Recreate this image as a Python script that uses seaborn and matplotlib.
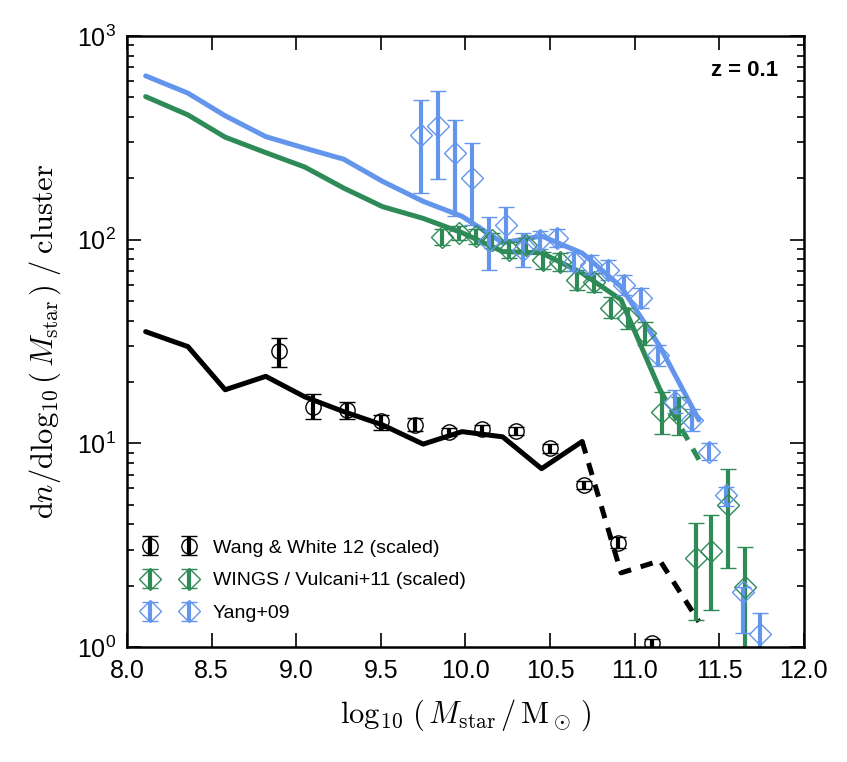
#Stellar mass function per cluster at z = 0.1, models vs observations.

import numpy as np
import pandas as pd
import seaborn as sns
from matplotlib import pyplot as plt

# model curves, one value per mass bin
model_x = [8.11, 8.36, 8.58, 8.82, 9.05, 9.28, 9.51, 9.75, 9.98, 10.22, 10.45, 10.69, 10.92, 11.15, 11.38]
model_black = [35.3, 29.8, 18.3, 21.3, 16.9, 14.3, 12.3, 9.9, 11.4, 10.75, 7.5, 10.2, 2.31, 2.65, 1.33]
model_green = [503, 409, 318, 267, 227, 179, 145, 127, 108, 87.3, 86, 68.4, 50.6, 18.3, 8.3]
model_blue = [636, 523, 405, 320, 281, 248, 193, 154, 130, 96.4, 104, 85.8, 58.6, 29.8, 13.0]

# Wang & White 12
wang_x = [8.9, 9.1, 9.3, 9.5, 9.7, 9.9, 10.1, 10.3, 10.5, 10.7, 10.9, 11.1]
wang_y = [28.4, 15.1, 14.5, 12.8, 12.3, 11.4, 11.7, 11.5, 9.46, 6.25, 3.24, 1.04]
wang_lo = [23.8, 13.1, 13.1, 11.6, 11.5, 10.9, 11.2, 11.0, 9.0, 5.95, 3.05, 0.97]
wang_hi = [33.0, 17.4, 16.0, 13.8, 13.3, 11.9, 12.3, 12.0, 9.9, 6.55, 3.45, 1.1]

# WINGS / Vulcani+11
wings_x = [9.86, 9.96, 10.06, 10.16, 10.26, 10.36, 10.46, 10.56, 10.66, 10.76, 10.86, 10.96, 11.06,
           11.16, 11.26, 11.36, 11.45, 11.55, 11.65]
wings_y = [103, 108, 104, 99.5, 89, 94, 79.5, 77.8, 63.4, 61.6, 46.3, 41.3, 34.8,
           14.3, 13.8, 2.73, 2.97, 4.99, 1.98]
wings_lo = [94, 99, 95, 91, 81, 86, 72, 70, 56.5, 55, 41, 36.5, 30.5,
            11.1, 11.0, 1.36, 1.52, 2.44, 0.9]
wings_hi = [112, 117, 113, 108, 97, 102, 87, 86, 70.5, 68.5, 52, 46, 39.5,
            17.9, 16.9, 4.06, 4.44, 7.46, 3.11]

# Yang+09
yang_x = [9.74, 9.84, 9.94, 10.04, 10.14, 10.24, 10.34, 10.44, 10.54, 10.64, 10.74, 10.84, 10.94,
          11.04, 11.14, 11.24, 11.34, 11.44, 11.54, 11.64, 11.74]
yang_y = [327, 359, 265, 200, 98.5, 118, 89, 99.5, 102, 77.8, 75.2, 71, 60,
          51.6, 27.2, 16.0, 13.0, 9.1, 5.58, 1.87, 1.16]
yang_lo = [169, 198, 130, 118, 71, 99.5, 73.5, 90, 92, 70, 67.5, 63.5, 53.5,
           46, 24, 14, 11.5, 8.3, 4.9, 1.17, 0.9]
yang_hi = [485, 537, 387, 297, 129, 145, 108, 110, 113, 86.5, 83.5, 79, 67,
           58, 30.5, 18.3, 14.7, 10.0, 6.1, 1.98, 1.47]

BLACK = "black"
GREEN = "#2E8B57"
BLUE = "#6495ED"

sns.set_style("ticks", {"axes.edgecolor": "black", "text.color": "black", "axes.labelcolor": "black",
                        "xtick.color": "black", "ytick.color": "black"})
plt.rcParams["font.family"] = ["Liberation Sans", "DejaVu Sans"]
plt.rcParams["mathtext.fontset"] = "cm"
plt.rcParams["mathtext.default"] = "it"
plt.rcParams["xtick.direction"] = "in"
plt.rcParams["ytick.direction"] = "in"

fig = plt.figure(figsize=(8.47, 7.62), dpi=100)
ax = fig.add_axes([0.150, 0.151, 0.799, 0.802])

models = pd.DataFrame({"x": model_x, "black": model_black, "green": model_green, "blue": model_blue})

# solid parts, then dashed tails
sns.lineplot(data=models.iloc[:12], x="x", y="black", color=BLACK, lw=3.6, ax=ax)
sns.lineplot(data=models.iloc[11:], x="x", y="black", color=BLACK, lw=3.6, ax=ax, linestyle=(0, (2.5, 2)))
sns.lineplot(data=models.iloc[:14], x="x", y="green", color=GREEN, lw=3.6, ax=ax)
sns.lineplot(data=models.iloc[13:], x="x", y="green", color=GREEN, lw=3.6, ax=ax, linestyle=(0, (2.5, 2)))
sns.lineplot(data=models, x="x", y="blue", color=BLUE, lw=3.6, ax=ax)


def points(xs, ys, lo, hi, color, marker, ms, label):
    ys = np.array(ys)
    err = [ys - np.array(lo), np.array(hi) - ys]
    ax.errorbar(xs, ys, yerr=err, fmt=marker, mfc="none", mec=color, mew=1.0, ms=ms,
                ecolor=color, elinewidth=3.0, capsize=5.5, capthick=1.5, label=label)


points(wang_x, wang_y, wang_lo, wang_hi, BLACK, "o", 11, "Wang & White 12 (scaled)")
points(wings_x, wings_y, wings_lo, wings_hi, GREEN, "D", 11.5, "WINGS / Vulcani+11 (scaled)")
points(yang_x, yang_y, yang_lo, yang_hi, BLUE, "D", 11.5, "Yang+09")

ax.set_yscale("log")
ax.set_xlim(8.0, 12.0)
ax.set_ylim(1, 1000)
ax.set_xticks(np.arange(8.0, 12.01, 0.5))
ax.set_xticklabels(["%.1f" % t for t in np.arange(8.0, 12.01, 0.5)])
ax.tick_params(which="both", top=True, right=True, labelsize=18, width=1.2, colors="black")
ax.tick_params(which="major", length=10)
ax.tick_params(which="minor", length=5)
ax.tick_params(axis="x", pad=9)
ax.tick_params(axis="y", pad=8)
for s in ax.spines.values():
    s.set_linewidth(1.8)
    s.set_color("black")

ax.set_xlabel(r"$\log_{10}\,(\,M_{\rm star}\,/\,\mathrm{M}_\odot\,)$", fontsize=22, labelpad=10)
ax.set_ylabel(r"$\mathrm{d}n/\mathrm{dlog}_{10}\,(\,M_{\rm star}\,)\;/\;\mathrm{cluster}$", fontsize=22, labelpad=10)

ax.text(0.962, 0.944, "z = 0.1", transform=ax.transAxes, ha="right", va="center",
        fontsize=16, fontweight="bold", color="black")

ax.legend(loc="lower left", bbox_to_anchor=(0.0, 0.012), frameon=False, numpoints=2,
          fontsize=14, handlelength=2.6, handletextpad=0.9, labelspacing=0.78)

plt.savefig("out.png", dpi=100)
